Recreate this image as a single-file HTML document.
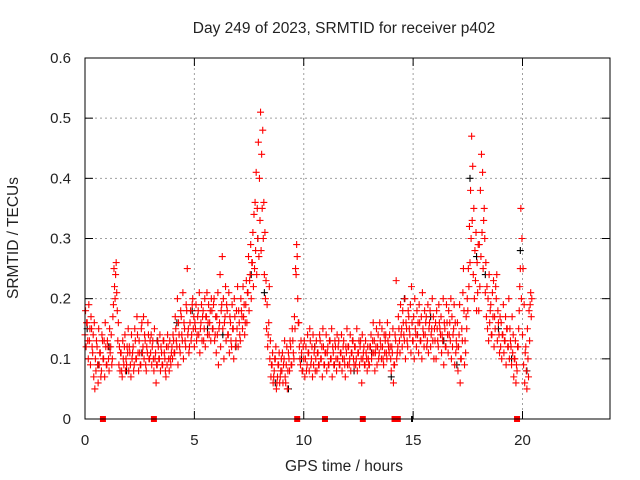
<!DOCTYPE html>
<html><head><meta charset="utf-8"><style>
html,body{margin:0;padding:0;background:#fff}
svg{display:block;font-family:"Liberation Sans",sans-serif}
</style></head><body>
<svg id="chart" width="640" height="480" viewBox="0 0 640 480">
<rect width="640" height="480" fill="#fff"/>
<text x="344" y="33" font-size="15.5" text-anchor="middle" fill="#222">Day 249 of 2023, SRMTID for receiver p402</text>
<g id="grid"></g>
<g id="ticks"></g>
<g id="marks"></g>
<rect x="85" y="58" width="525" height="361" fill="none" stroke="#000" stroke-width="1"/>
<text x="344" y="471" font-size="15.5" text-anchor="middle" fill="#222">GPS time / hours</text>
<text x="18" y="238" font-size="15.5" text-anchor="middle" fill="#222" transform="rotate(-90 18 238)">SRMTID / TECUs</text>
</svg>
<script>
// values in units of 0.01 TECU, sampled every redDt hours starting at redT0
const redT0 = 0, redDt = 0.05;
const redA = [14,12,16,10,13,9,15,11,7,5,8,12,6,9,11,8,13,10,7,12,
9,12,8,11,14,10,19,22,24,21,13,9,8,11,7,10,12,8,9,11,
8,11,7,10,12,9,13,10,14,8,11,9,16,12,10,13,8,11,14,10,
11,9,13,8,10,6,9,12,10,8,11,9,13,10,7,9,12,8,10,11,
10,13,11,15,12,9,14,11,17,13,10,15,12,18,14,11,16,13,19,15,
12,15,13,17,14,11,16,13,18,15,12,17,14,19,16,13,18,15,20,14,
11,14,9,16,12,19,15,10,17,13,18,14,11,16,12,15,10,17,13,15,
12,16,13,18,15,17,14,19,16,21,18,24,20,26,22,25,28,24,30,27,
33,28,35,30,24,20,15,12,16,10,7,9,6,8,10,5,7,9,6,8,
8,6,10,7,9,5,11,8,12,9,13,10,15,24,27,16,12,9,11,8,
10,7,12,9,11,8,13,10,7,9,12,10,8,11,9,13,10,7,12,9,
11,8,12,9,13,10,7,11,9,12,8,10,13,9,11,8,12,10,7,11,
9,12,10,8,11,13,9,12,10,8,11,9,13,6,10,12,9,11,8,10,
9,12,10,13,11,8,12,9,14,11,13,10,12,9,11,14,10,13,11,12,
8,11,6,9,13,10,12,15,11,14,12,16,13,10,15,12,17,14,11,16,
13,10,15,12,14,11,16,13,10,15,12,14,17,13,11,16,12,15,13,10,
13,10,15,12,16,14,11,13,9,15,12,16,11,14,13,10,12,15,9,11,
12,8,14,6,10,13,25,9,11,15,18,22,26,30,33,24,20,23,18,21,
18,22,27,31,25,35,21,17,15,13,16,19,14,17,12,15,20,13,16,11,
12,10,14,11,13,9,15,12,10,13,9,11,7,10,6,8,12,18,25,20,
14,9,6,12,5,10,18,19,17];
const redB = [18,16,13,19,15,17,12,14,16,10,13,9,15,11,7,14,10,13,16,9,
13,10,15,12,9,17,25,20,26,18,16,12,11,8,13,9,14,10,12,15,
12,9,14,11,8,15,10,17,11,13,9,15,11,17,14,9,12,16,10,13,
14,12,10,15,11,9,13,10,14,12,9,13,11,8,12,14,10,13,9,12,
14,11,17,13,20,16,12,18,14,21,16,13,19,25,15,12,18,14,20,17,
16,19,14,18,21,15,19,17,13,20,17,21,16,14,18,20,15,19,13,17,
17,21,15,24,18,27,20,16,22,19,14,21,17,13,19,15,20,12,18,22,
18,14,20,17,22,19,16,23,21,27,23,29,26,31,34,36,41,35,46,40,
51,44,48,36,31,23,19,14,22,13,9,11,7,10,12,6,9,11,7,10,
11,9,13,6,12,8,10,13,9,15,11,17,25,29,20,16,10,13,8,12,
13,10,8,14,11,15,9,12,14,11,8,13,11,9,14,10,12,15,9,11,
14,11,9,13,10,15,12,9,13,10,14,12,9,11,14,10,13,9,12,15,
12,9,14,11,13,10,12,9,15,11,13,12,10,14,11,9,13,10,12,9,
12,14,11,16,13,11,15,12,10,16,12,15,10,14,13,11,16,12,14,10,
12,15,9,14,23,11,17,13,19,15,18,14,20,16,13,18,15,19,22,13,
17,20,14,18,16,19,13,17,21,14,18,16,12,19,15,18,14,20,17,15,
16,18,13,19,15,17,14,20,16,12,19,14,18,16,20,17,14,19,16,13,
16,12,19,10,15,21,18,13,17,20,25,32,38,47,42,35,28,31,26,29,
29,38,44,41,33,30,26,22,20,24,18,14,21,23,17,22,24,18,14,17,
16,14,19,13,17,15,12,20,15,12,17,14,10,13,9,12,15,22,35,30,
25,19,11,8,15,7,13,21,20];
const blackT = [0.1,0.6,1.1,1.9,2.6,3.3,4.2,4.9,5.6,6.3,6.9,7.6,7.9,8.2,8.7,9.3,9.9,10.5,11.4,12.3,13.1,14.0,14.6,15.2,15.8,16.4,17.0,17.6,17.9,18.3,18.9,19.5,19.9,20.2];
const blackV = [15,9,12,8,11,13,16,18,15,14,12,24,30,21,6,5,10,12,9,8,11,7,20,14,17,13,9,40,27,24,15,10,28,8];
const gapRedT = [0.82,3.15,9.7,10.97,12.7,14.15,14.3,19.75];
const gapBlackT = [14.95];
const xTicks = [0,5,10,15,20];
const yTicks = [0,0.1,0.2,0.3,0.4,0.5,0.6];

const X0=85,X1=610,Y0=419,Y1=58;
const xs = t => X0 + t/24*(X1-X0);
const ys = v => Y0 - v/0.6*(Y0-Y1);
const NS="http://www.w3.org/2000/svg";
const grid=document.getElementById('grid'), ticks=document.getElementById('ticks'), marks=document.getElementById('marks');
function mk(tag,attrs,parent){const e=document.createElementNS(NS,tag);for(const k in attrs)e.setAttribute(k,attrs[k]);parent.appendChild(e);return e;}

yTicks.forEach(v=>{
  const y=ys(v);
  if(v>0&&v<0.6){const g=mk('line',{x1:X0,x2:X1,y1:y,y2:y,stroke:'#a0a0a0','stroke-dasharray':'2,3'},grid);
  
  }
  const t1=mk('line',{x1:X0,x2:X0+8,y1:y,y2:y,stroke:'#000'},ticks);
  
  
  const t2=mk('line',{x1:X1-8,x2:X1,y1:y,y2:y,stroke:'#000'},ticks);
  
  
  const l=mk('text',{x:71,y:y+5,'font-size':15,'text-anchor':'end',fill:'#222'},ticks);
  l.textContent=v===0?'0':v.toFixed(1);
  
  
});
xTicks.forEach(t=>{
  const x=xs(t);
  if(t>0){const g=mk('line',{x1:x,x2:x,y1:Y1,y2:Y0,stroke:'#a0a0a0','stroke-dasharray':'2,3'},grid);
  
  }
  const t1=mk('line',{x1:x,x2:x,y1:Y0,y2:Y0-8,stroke:'#000'},ticks);
  
  
  const t2=mk('line',{x1:x,x2:x,y1:Y1,y2:Y1+8,stroke:'#000'},ticks);
  
  
  const l=mk('text',{x:x,y:445,'font-size':15,'text-anchor':'middle',fill:'#222'},ticks);
  l.textContent=String(t);
  
  
});
function plus(t,v,col,name){
  const x=xs(t),y=ys(v);
  const p=mk('path',{d:`M${x-3.5} ${y}h7M${x} ${y-3.5}v7`,stroke:col,'stroke-width':1.1,fill:'none'},marks);
  
  
}
blackT.forEach((t,i)=>plus(t,blackV[i]/100,'#000','black-point'));
redA.forEach((v,i)=>plus(redT0+i*redDt,v/100,'#f00','red-point'));
redB.forEach((v,i)=>plus(redT0+i*redDt+0.025,v/100,'#f00','red-point'));
gapRedT.forEach(t=>{
  const r=mk('rect',{x:xs(t)-3,y:Y0-3,width:6,height:6,fill:'#f00'},marks);
  
  
});
gapBlackT.forEach(t=>{
  const r=mk('rect',{x:xs(t)-1,y:Y0-3,width:2,height:6,fill:'#000'},marks);
  
  
});
</script>
</body></html>
